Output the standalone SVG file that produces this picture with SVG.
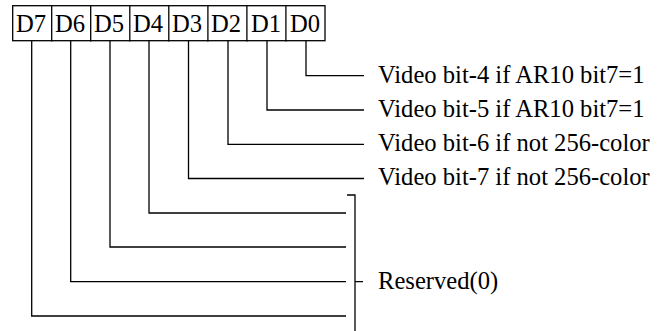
<svg xmlns="http://www.w3.org/2000/svg" width="666" height="331" viewBox="0 0 666 331">
<style>
.ln{stroke:#000;stroke-width:1.3;fill:none}
.t{font-family:"Liberation Serif",serif;font-size:24.6px;fill:#000}
.c{text-anchor:middle}
</style>
<rect width="666" height="331" fill="#fff"/>
<g id="register">
<rect class="ln" x="12.7" y="5.7" width="312.3" height="35"/>
<path class="ln" d="M51.7 5.7V41.5M90.7 5.7V41.5M129.8 5.7V41.5M168.8 5.7V41.5M207.9 5.7V41.5M246.9 5.7V41.5M285.9 5.7V41.5"/>
<text class="t c" x="31" y="32">D7</text>
<text class="t c" x="70" y="32">D6</text>
<text class="t c" x="109" y="32">D5</text>
<text class="t c" x="148" y="32">D4</text>
<text class="t c" x="187" y="32">D3</text>
<text class="t c" x="226" y="32">D2</text>
<text class="t c" x="266" y="32">D1</text>
<text class="t c" x="305" y="32">D0</text>
</g>
<g id="connectors">
<path class="ln" d="M306 40.7V75.7H364"/>
<path class="ln" d="M267 40.7V110H364"/>
<path class="ln" d="M228 40.7V144.3H364"/>
<path class="ln" d="M188.5 40.7V178.5H364"/>
<path class="ln" d="M149 40.7V213H346"/>
<path class="ln" d="M110 40.7V247H346"/>
<path class="ln" d="M70.7 40.7V281.7H346"/>
<path class="ln" d="M31.7 40.7V316H346"/>
<path class="ln" d="M347 195H355V331M355 281.7H363"/>
</g>
<g id="labels">
<text class="t" x="378" y="83">Video bit-4 if AR10 bit7=1</text>
<text class="t" x="378" y="117">Video bit-5 if AR10 bit7=1</text>
<text class="t" x="378" y="151">Video bit-6 if not 256-color</text>
<text class="t" x="378" y="185">Video bit-7 if not 256-color</text>
<text class="t" x="378" y="289">Reserved(0)</text>
</g>
</svg>
